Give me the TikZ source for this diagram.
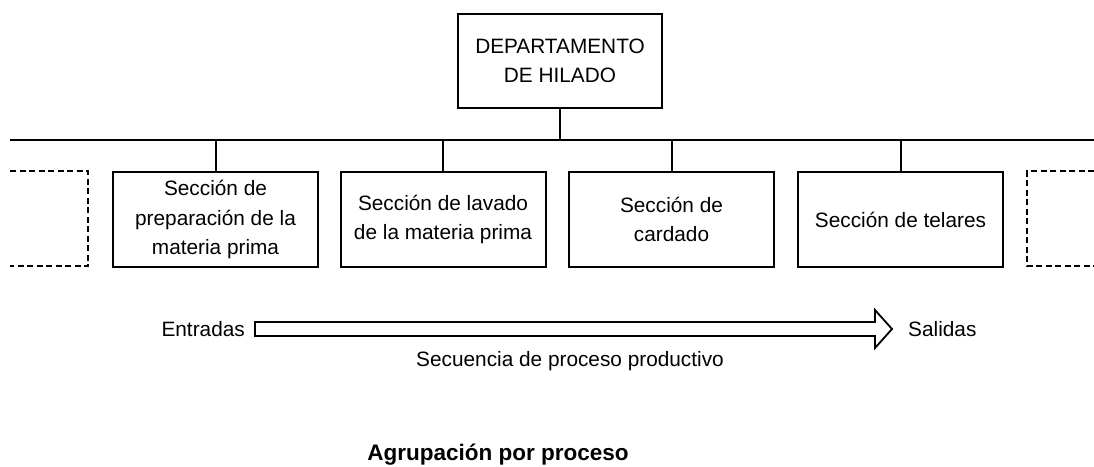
\documentclass[tikz,border=0pt]{standalone}
\usepackage{fontspec}
\setmainfont{Liberation Sans}
\begin{document}
\begin{tikzpicture}[x=1pt,y=-1pt,
  txt/.style={font=\fontsize{20.8}{29.5}\selectfont},
  unitbox/.style={draw,line width=2pt,minimum width=205pt,minimum height=95pt,align=center,inner sep=0pt,txt},
  link/.style={line width=2pt},
  ghost/.style={line width=2pt,dash pattern=on 6pt off 3.5pt}]
\useasboundingbox (0,0) rectangle (1094,466);
% top box
\node[draw,line width=2pt,minimum width=204pt,minimum height=94pt,align=center,inner sep=0pt,txt] (dep) at (560,61) {DEPARTAMENTO\\DE HILADO};
% bus
\coordinate (busL) at (10,140);
\coordinate (busR) at (1094,140);
\draw[link] (busL) -- (busR);
\draw[link] (dep.south) -- (dep.south |- busL);
% units
\node[unitbox] (s1) at (215.5,219.5) {Sección de\\preparación de la\\materia prima};
\node[unitbox] (s2) at (443,219.5) {Sección de lavado\\de la materia prima};
\node[unitbox] (s3) at (671.5,219.5) {Sección de\\cardado};
\node[unitbox] (s4) at (900.5,219.5) {Sección de telares};
\foreach \n in {s1,s2,s3,s4}{\draw[link] (\n.north) -- (\n.north |- busL);}
% dashed partial boxes
\draw[ghost] (10,171) -- (88,171) -- (88,266) -- (10,266);
\draw[ghost] (1094,171) -- (1027,171) -- (1027,266) -- (1094,266);
% arrow
\node[txt,anchor=east,inner sep=0pt] (in) at (245,329) {Entradas};
\node[txt,anchor=west,inner sep=0pt] (out) at (908,329) {Salidas};
\draw[line width=1.8pt,line join=miter] ([xshift=10pt]in.east |- 0,322) -- (875,322) -- (875,310) -- ([xshift=-16pt]out.west |- 0,329) -- (875,348) -- (875,336) -- ([xshift=10pt]in.east |- 0,336) -- cycle;
\node[txt] (seq) at (570,361) {Secuencia de proceso productivo};
\node[font=\bfseries\fontsize{22.5}{27}\selectfont] (cap) at (498,455) {Agrupación por proceso};
\end{tikzpicture}
\end{document}
